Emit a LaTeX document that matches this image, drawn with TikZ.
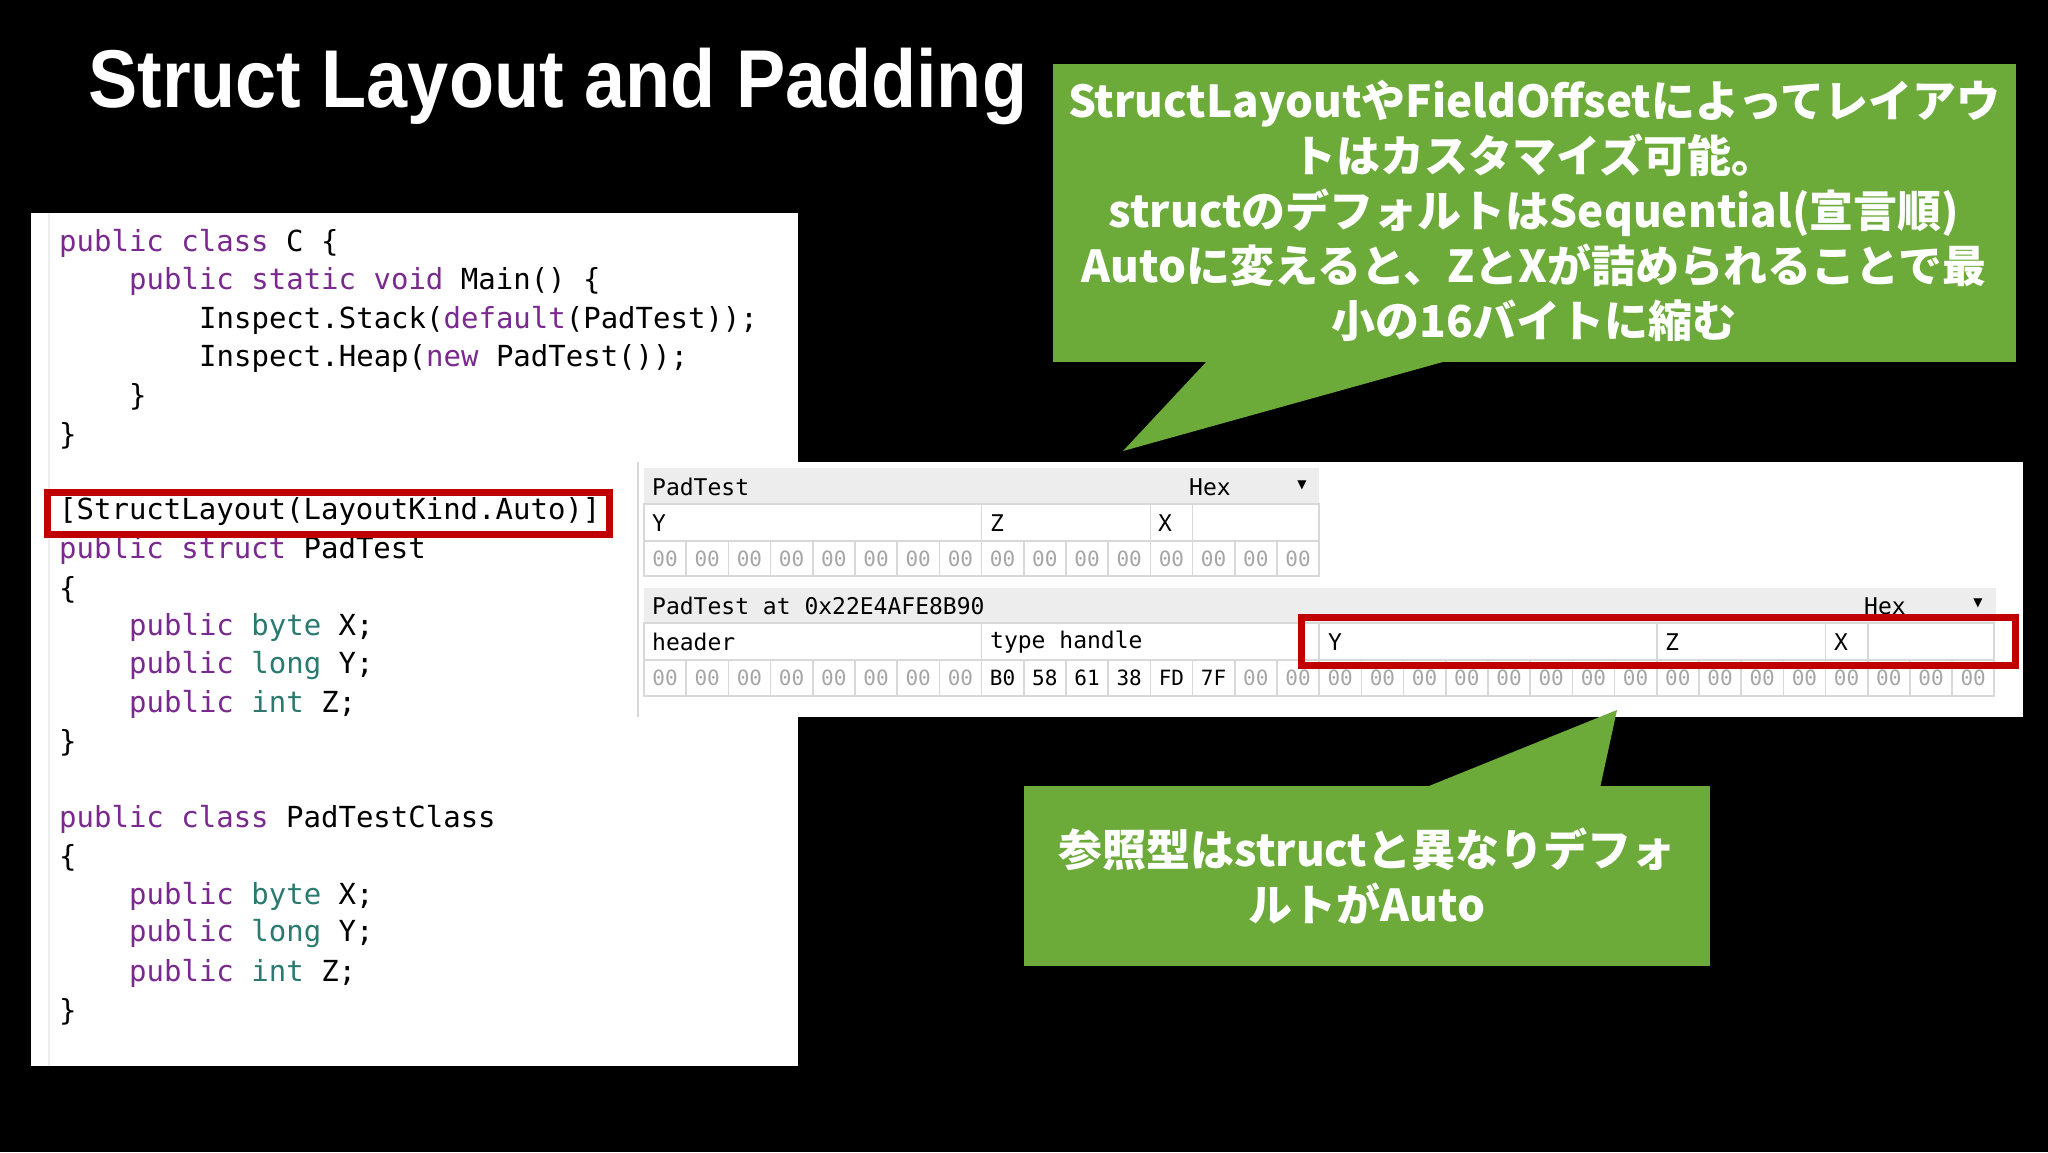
\documentclass[tikz,border=0pt]{standalone}
\usepackage{fontspec}
\setmainfont{Liberation Sans}
\setmonofont{DejaVu Sans Mono}
\newfontfamily\jp{Noto Sans CJK JP}
\newfontfamily\dv{DejaVu Sans}
\definecolor{kw}{HTML}{7A2A8E}
\definecolor{ty}{HTML}{2B7A6F}
\definecolor{grn}{HTML}{6CAA3A}
\definecolor{redb}{HTML}{C00000}
\definecolor{hdr}{HTML}{EDEDED}
\definecolor{cellln}{HTML}{D8D8D8}
\newcommand{\K}[1]{\textcolor{kw}{#1}}
\newcommand{\T}[1]{\textcolor{ty}{#1}}
\begin{document}
\begin{tikzpicture}[x=1pt,y=-1pt,
  code/.style={anchor=west,inner sep=0pt,font=\fontsize{29}{29}\ttfamily,text=black},
  hx/.style={anchor=center,inner sep=0pt,font=\fontsize{21}{21}\ttfamily},
  lab/.style={anchor=west,inner sep=0pt,font=\fontsize{23}{23}\ttfamily},
  arr/.style={inner sep=0pt,font=\fontsize{12}{12}\dv},
  calltext/.style={align=center,text=white,font=\fontsize{44}{55}\jp\bfseries}]
\fill[black] (0,0) rectangle (2048,1152);
\useasboundingbox (0,0) rectangle (2048,1152);
\node[anchor=west,inner sep=0pt,text=white,font=\fontsize{82}{82}\bfseries] (title) at (88,86) {\scalebox{0.9}[1]{Struct Layout and Padding}};
% code panel
\fill[white] (31,213) rectangle (798,1066);
\draw[hdr,line width=2pt] (49,213) -- (49,1066);
\node[code] (c1) at (59,243) {\K{public class} C \{};
\node[code] (c2) at (129,281) {\K{public static void} Main() \{};
\node[code] (c3) at (199,320) {Inspect.Stack(\K{default}(PadTest));};
\node[code] (c4) at (199,358) {Inspect.Heap(\K{new} PadTest());};
\node[code] (c5) at (129,397) {\}};
\node[code] (c6) at (59,436) {\}};
\node[code] (c7) at (59,511) {[StructLayout(LayoutKind.Auto)]};
\node[code] (c8) at (59,550) {\K{public struct} PadTest};
\node[code] (c9) at (59,590) {\{};
\node[code] (c10) at (129,627) {\K{public} \T{byte} X;};
\node[code] (c11) at (129,666) {\K{public} \T{long} Y;};
\node[code] (c12) at (129,704) {\K{public} \T{int} Z;};
\node[code] (c13) at (59,743) {\}};
\node[code] (c14) at (59,819) {\K{public class} PadTestClass};
\node[code] (c15) at (59,858) {\{};
\node[code] (c16) at (129,896) {\K{public} \T{byte} X;};
\node[code] (c17) at (129,934) {\K{public} \T{long} Y;};
\node[code] (c18) at (129,973) {\K{public} \T{int} Z;};
\node[code] (c19) at (59,1012) {\}};
\draw[redb,line width=7pt] (47,492) rectangle (609,534);
% hex panel
\fill[white] (637,462) rectangle (2023,717);
\draw[cellln,line width=2pt] (638,462) -- (638,717);
% top table
\fill[hdr] (644,468) rectangle (1319,504);
\node[lab] (t1) at (652,487) {PadTest};
\node[lab] (t1h) at (1189,487) {Hex};
\node[arr] (t1a) at (1302,485) {▼};
\draw[cellln,line width=1.5pt] (644,504) rectangle (1319,576);
\draw[cellln,line width=1.5pt] (644,541) -- (1319,541);
\foreach \i in {8,12,13} \draw[cellln,line width=1.5pt] ({644+\i*42.2},504) -- ({644+\i*42.2},541);
\node[lab] at (652,523) {Y};
\node[lab] at (990,523) {Z};
\node[lab] at (1158,523) {X};
\foreach \i in {0,...,15} {
  \draw[cellln,line width=1.5pt] ({644+\i*42.2},541) -- ({644+\i*42.2},576);
  \node[hx,text=gray!70] at ({665+\i*42.2},559) {00};
}
% bottom table
\fill[hdr] (644,588) rectangle (1996,623);
\node[lab] (t2) at (652,606) {PadTest at 0x22E4AFE8B90};
\node[lab] (t2h) at (1864,606) {Hex};
\node[arr] (t2a) at (1978,603) {▼};
\draw[cellln,line width=1.5pt] (644,623) rectangle (1994,696);
\draw[cellln,line width=1.5pt] (644,660) -- (1994,660);
\foreach \i in {8,16,24,28,29} \draw[cellln,line width=1.5pt] ({644+\i*42.2},623) -- ({644+\i*42.2},660);
\node[lab] at (652,642) {header};
\node[lab] at (990,642) {type handle};
\node[lab] at (1328,642) {Y};
\node[lab] at (1665,642) {Z};
\node[lab] at (1834,642) {X};
\foreach \i in {0,...,31} {
  \draw[cellln,line width=1.5pt] ({644+\i*42.2},660) -- ({644+\i*42.2},696);
  \node[hx,text=gray!70] at ({665+\i*42.2},678) {00};
}
\foreach \v [count=\j from 8] in {B0,58,61,38,FD,7F} {
  \fill[white] ({646+\j*42.2},663) rectangle ({684+\j*42.2},694);
  \node[hx,text=black] at ({665+\j*42.2},678) {\v};
}
\draw[redb,line width=7pt] (1301,617) rectangle (2015,665);
% callouts
\fill[grn] (1053,64) rectangle (2016,362);
\fill[grn] (1208,360) -- (1123,451) -- (1450,360) -- cycle;
\node[calltext] (n1) at (1534,211) {StructLayoutやFieldOffsetによってレイアウ\\トはカスタマイズ可能。\\structのデフォルトはSequential(宣言順)\\Autoに変えると、ZとXが詰められることで最\\小の16バイトに縮む};
\fill[grn] (1024,786) rectangle (1710,966);
\fill[grn] (1424,788) -- (1617,710) -- (1600,788) -- cycle;
\node[calltext] (n2) at (1367,876) {参照型はstructと異なりデフォ\\ルトがAuto};
\end{tikzpicture}
\end{document}
